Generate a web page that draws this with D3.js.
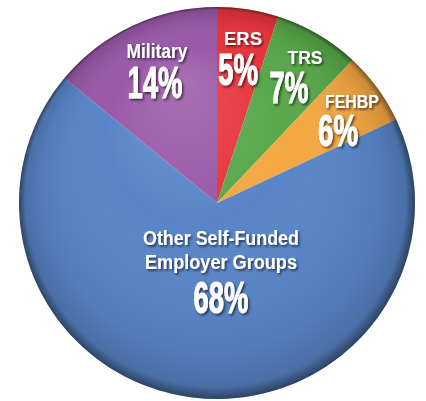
<!DOCTYPE html>
<html>
<head>
<meta charset="utf-8">
<script src="https://cdn.jsdelivr.net/npm/d3@7"></script>
<style>
  body { margin: 0; background: #fff; }
  text { font-family: "Liberation Sans", Arial, sans-serif; font-weight: bold; fill: #fff; }
</style>
</head>
<body>
<svg id="chart"></svg>
<script>
// chart data
var groups = ["ERS", "TRS", "FEHBP", "Other Self-Funded Employer Groups", "Military"];
var shares = [5, 7, 6, 68, 14];
var colorList = ["#e8343d", "#58a74a", "#f4a843", "#5985c8", "#9a59a8"];

var width = 426, height = 401;

var svg = d3.select("#chart")
            .attr("width", width)
            .attr("height", height);

var defs = svg.append("defs");

// shading over the whole pie: lighter at the top, dark rim mostly at the bottom
var shade = defs.append("radialGradient")
                .attr("id", "shade")
                .attr("cx", "50%").attr("cy", "50%").attr("r", "50%")
                .attr("fx", "40%").attr("fy", "18%");
shade.append("stop").attr("offset", "0%").attr("stop-color", "#fff").attr("stop-opacity", 0.14);
shade.append("stop").attr("offset", "45%").attr("stop-color", "#fff").attr("stop-opacity", 0.0);
shade.append("stop").attr("offset", "85%").attr("stop-color", "#000").attr("stop-opacity", 0.07);
shade.append("stop").attr("offset", "96%").attr("stop-color", "#000").attr("stop-opacity", 0.16);
shade.append("stop").attr("offset", "100%").attr("stop-color", "#000").attr("stop-opacity", 0.5);

var drop = defs.append("filter")
               .attr("id", "drop")
               .attr("x", "-20%").attr("y", "-20%")
               .attr("width", "150%").attr("height", "150%");
drop.append("feDropShadow")
    .attr("dx", 1.5).attr("dy", 1.8)
    .attr("stdDeviation", 1)
    .attr("flood-color", "#000")
    .attr("flood-opacity", 0.6);

var radius = 198;
var colors = d3.scaleOrdinal().domain(groups).range(colorList);

var pie = d3.pie().sort(null).value(function(d){ return d.value; });
var arc = d3.arc().innerRadius(0).outerRadius(radius);

var data = groups.map(function(g, i){ return {name: g, value: shares[i]}; });

var plot = svg.append("g")
              .attr("transform", "translate(217,203) scale(1,0.99)");

plot.selectAll("path")
    .data(pie(data))
    .enter()
    .append("path")
    .attr("d", arc)
    .attr("fill", function(d){ return colors(d.data.name); });

plot.append("circle")
    .attr("r", radius)
    .attr("fill", "url(#shade)");

// labels: name lines + big percent, positions picked to match the picture
var labelPos = [
  {x: 243, y: 45, size: 19, lines: ["ERS"], widths: [38], px: 238, py: 85, pw: 40},
  {x: 305, y: 64, size: 19, lines: ["TRS"], widths: [35], px: 289, py: 103, pw: 39},
  {x: 352, y: 108, size: 18, lines: ["FEHBP"], widths: [54], px: 338, py: 146, pw: 40},
  {x: 221, y: 245, size: 20, lines: ["Other Self-Funded", "Employer Groups"], widths: [156, 152], px: 221, py: 313, pw: 55},
  {x: 157, y: 58, size: 21, lines: ["Military"], widths: [61], px: 155, py: 98, pw: 55}
];

var labels = svg.append("g").attr("filter", "url(#drop)");

labelPos.forEach(function(p, i){
  var g = labels.append("g");
  p.lines.forEach(function(line, j){
    g.append("text")
     .attr("x", p.x - p.widths[j] / 2)
     .attr("y", p.y + j * 24)
     .attr("textLength", p.widths[j])
     .attr("lengthAdjust", "spacingAndGlyphs")
     .style("font-size", p.size + "px")
     .text(line);
  });
  g.append("text")
   .attr("x", p.px - p.pw / 2)
   .attr("y", p.py)
   .attr("textLength", p.pw)
   .attr("lengthAdjust", "spacingAndGlyphs")
   .style("font-size", "44px")
   .style("stroke", "#fff")
   .style("stroke-width", 1)
   .text(shares[i] + "%");
});
</script>
</body>
</html>
